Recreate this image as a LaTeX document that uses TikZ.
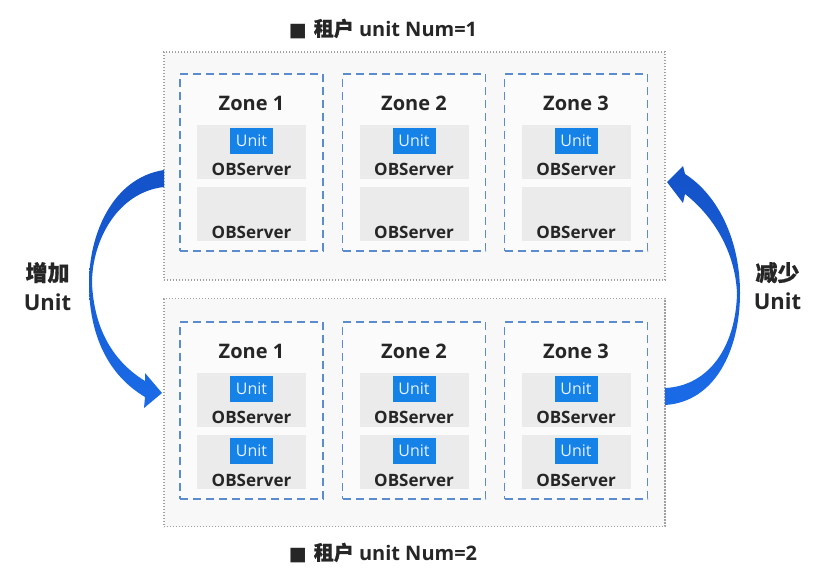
\documentclass[tikz,border=0pt]{standalone}
\usepackage{fontspec}
\setmainfont{Open Sans}
\newfontfamily\cjkb{Noto Sans CJK SC}[FakeBold=0.8]
\newfontfamily\sym{DejaVu Sans}
\definecolor{txt}{HTML}{262626}
\definecolor{panelfill}{HTML}{F8F8F8}
\definecolor{panelline}{HTML}{A0A0A0}
\definecolor{zoneline}{HTML}{5A8CCF}
\definecolor{zonefill}{HTML}{FBFBFB}
\definecolor{srvfill}{HTML}{EBEBEB}
\definecolor{unitblue}{HTML}{1582E8}
\definecolor{unittext}{HTML}{E6F2FF}
\definecolor{arrowdark}{HTML}{1452C8}
\definecolor{arrowmid}{HTML}{2E8BF7}
\definecolor{arrowlow}{HTML}{1A6BE8}
\begin{document}
\begin{tikzpicture}[x=1pt,y=-1pt,
  panel/.style={draw=panelline, fill=panelfill, line width=1.1pt, dash pattern=on 1.2pt off 1.8pt, minimum width=501pt, minimum height=228pt, inner sep=0pt},
  zone/.style={draw=zoneline, fill=zonefill, line width=1.7pt, dash pattern=on 8pt off 5pt, minimum width=143pt, minimum height=177pt, inner sep=0pt},
  srv/.style={fill=srvfill, minimum width=109pt, minimum height=54pt, inner sep=0pt},
  unitbox/.style={fill=unitblue, text=unittext, minimum width=43pt, minimum height=26pt, inner sep=0pt, font=\fontsize{16}{16}\selectfont},
  zlabel/.style={text=txt, anchor=base, inner sep=0pt, font=\bfseries\fontsize{20}{20}\selectfont},
  srvlabel/.style={text=txt, anchor=base, inner sep=0pt, font=\bfseries\fontsize{17}{17}\selectfont},
  titlelabel/.style={text=txt, anchor=base, inner sep=0pt, font=\bfseries\fontsize{20}{20}\selectfont},
  sidelabel/.style={text=txt, anchor=base, inner sep=0pt, font=\bfseries\fontsize{22}{22}\selectfont},
  bigarrow/.style={top color=arrowdark, middle color=arrowmid, bottom color=arrowlow, draw=none}
]
\useasboundingbox (0,0) rectangle (840,570);
\fill[white] (0,0) rectangle (840,570);

% panels
\node[panel] (p1) at (414.5,166) {};
\node[panel] (p2) at (414.5,412.5) {};

% zones
\foreach \p/\py in {1/0,2/248} {
  \foreach \z/\zx in {1/251.5,2/414,3/576} {
    \node[zone] (z\p\z) at (\zx,162.5+\py) {};
    \node[zlabel] (zl\p\z) at (\zx,110+\py) {Zone \z};
    \node[srv] (sa\p\z) at (\zx,152+\py) {};
    \node[srv] (sb\p\z) at (\zx,214+\py) {};
    \node[srvlabel] (oa\p\z) at (\zx,175.5+\py) {OBServer};
    \node[srvlabel] (ob\p\z) at (\zx,238+\py) {OBServer};
  }
}
% units
\foreach \z/\zx in {1/251.5,2/414,3/576} {
  \node[unitbox] (ua1\z) at (\zx,141) {Unit};
  \node[unitbox] (ua2\z) at (\zx,389) {Unit};
  \node[unitbox] (ub2\z) at (\zx,451) {Unit};
}

% titles
\node[titlelabel] (t1) at (383,36) {{\sym\fontsize{19}{19}\selectfont ■}\hspace{7pt}{\cjkb 租户} unit Num=1};
\node[titlelabel] (t2) at (383,560) {{\sym\fontsize{19}{19}\selectfont ■}\hspace{7pt}{\cjkb 租户} unit Num=2};

% side labels
\node[sidelabel] (la) at (47.5,281) {\cjkb 增加};
\node[sidelabel] (lb) at (47.5,310) {Unit};
\node[sidelabel] (ra) at (777.5,281) {\cjkb 减少};
\node[sidelabel] (rb) at (777.5,309) {Unit};

% left curved arrow (add unit)
\path[bigarrow] (164,170)
  .. controls (112,178) and (89,235) .. (89,283)
  .. controls (89,335) and (108,375) .. (145,397)
  -- (144,408) -- (162,393) -- (145,373) -- (145,381)
  .. controls (114,362) and (94,330) .. (92,283)
  .. controls (92,240) and (118,192) .. (164,187) -- cycle;

% right curved arrow (remove unit)
\path[bigarrow] (665,405)
  .. controls (715,402) and (740,350) .. (740,293)
  .. controls (740,240) and (718,195) .. (685,174)
  -- (683,166) -- (667,182) -- (683,203) -- (685,194)
  .. controls (712,215) and (735,250) .. (737,293)
  .. controls (736,345) and (710,386) .. (665,388) -- cycle;
\end{tikzpicture}
\end{document}
